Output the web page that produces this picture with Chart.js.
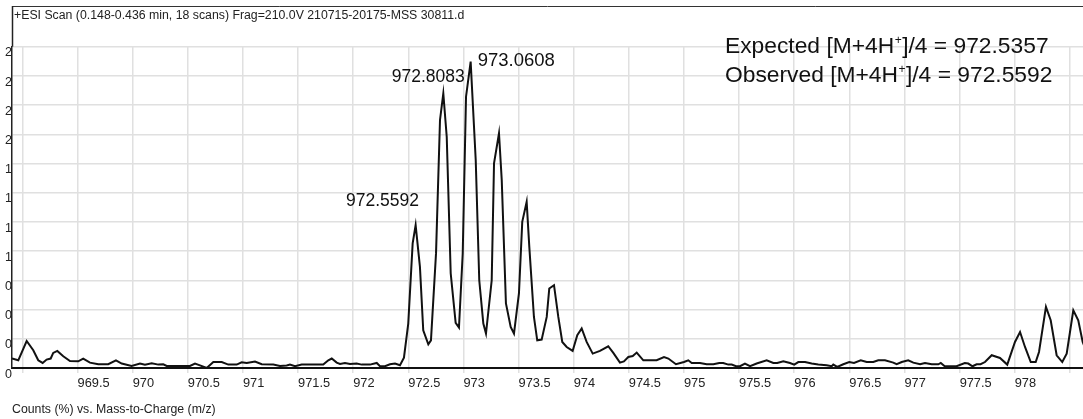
<!DOCTYPE html>
<html>
<head>
<meta charset="utf-8">
<script src="https://cdn.jsdelivr.net/npm/chart.js@4.4.0/dist/chart.umd.min.js"></script>
<style>
  html, body { margin: 0; padding: 0; background: #fff; }
</style>
</head>
<body>
<canvas id="spectrum" width="1083" height="419"></canvas>
<script>
// m/z values of the profile trace
const mz = [
  968.905, 968.962, 969.038, 969.098, 969.143, 969.183, 969.219, 969.256, 969.279, 969.316,
  969.370, 969.431, 969.506, 969.551, 969.612, 969.688, 969.778, 969.848, 969.900, 969.990,
  970.066, 970.111, 970.172, 970.232, 970.277, 970.308, 970.519, 970.565, 970.610, 970.671,
  970.731, 970.807, 970.867, 970.943, 970.988, 971.034, 971.109, 971.170, 971.275, 971.336,
  971.396, 971.426, 971.472, 971.532, 971.728, 971.774, 971.805, 971.850, 971.880, 971.925,
  971.971, 972.031, 972.077, 972.152, 972.213, 972.243, 972.288, 972.333, 972.379, 972.424,
  972.460, 972.499, 972.539, 972.566, 972.605, 972.635, 972.681, 972.705, 972.751, 972.787,
  972.817, 972.848, 972.884, 972.929, 972.959, 972.993, 973.023, 973.065, 973.111, 973.143,
  973.180, 973.204, 973.256, 973.277, 973.322, 973.347, 973.385, 973.428, 973.458, 973.503,
  973.533, 973.573, 973.597, 973.639, 973.669, 973.709, 973.755, 973.778, 973.821, 973.860,
  973.896, 973.936, 973.990, 974.032, 974.072, 974.117, 974.172, 974.238, 974.313, 974.359,
  974.419, 974.455, 974.495, 974.535, 974.571, 974.631, 974.752, 974.819, 974.858, 974.927,
  975.000, 975.039, 975.070, 975.145, 975.206, 975.266, 975.320, 975.356, 975.402, 975.433,
  975.472, 975.508, 975.553, 975.599, 975.659, 975.750, 975.810, 975.846, 975.901, 975.961,
  976.000, 976.037, 976.098, 976.158, 976.218, 976.294, 976.340, 976.354, 976.390, 976.445,
  976.499, 976.542, 976.603, 976.657, 976.717, 976.762, 976.823, 976.898, 976.929, 976.975,
  977.034, 977.080, 977.141, 977.186, 977.247, 977.307, 977.329, 977.365, 977.472, 977.547,
  977.578, 977.617, 977.654, 977.690, 977.730, 977.791, 977.866, 977.932, 978.002, 978.048,
  978.093, 978.145, 978.190, 978.220, 978.283, 978.326, 978.380, 978.431, 978.471, 978.531,
  978.576, 978.616, 978.680
];

// counts, same order as mz
const counts = [
  0.081, 0.066, 0.231, 0.152, 0.066, 0.043, 0.072, 0.081, 0.129, 0.146,
  0.100, 0.060, 0.057, 0.081, 0.046, 0.032, 0.032, 0.066, 0.038, 0.017,
  0.038, 0.029, 0.040, 0.029, 0.032, 0.017, 0.017, 0.038, 0.023, 0.000,
  0.051, 0.051, 0.029, 0.029, 0.049, 0.043, 0.055, 0.032, 0.029, 0.017,
  0.021, 0.029, 0.015, 0.029, 0.029, 0.066, 0.081, 0.046, 0.034, 0.043,
  0.034, 0.038, 0.029, 0.029, 0.043, 0.015, 0.015, 0.032, 0.038, 0.023,
  0.089, 0.380, 1.066, 1.223, 0.865, 0.323, 0.203, 0.237, 0.983, 2.123,
  2.351, 1.979, 0.811, 0.386, 0.346, 0.980, 2.322, 2.622, 1.780, 0.751,
  0.380, 0.295, 0.751, 1.751, 2.009, 1.608, 0.552, 0.351, 0.295, 0.638,
  1.251, 1.422, 1.037, 0.437, 0.237, 0.243, 0.437, 0.680, 0.709, 0.437,
  0.223, 0.180, 0.146, 0.280, 0.338, 0.223, 0.123, 0.146, 0.186, 0.129,
  0.046, 0.057, 0.094, 0.103, 0.132, 0.066, 0.066, 0.094, 0.081, 0.032,
  0.051, 0.066, 0.043, 0.043, 0.032, 0.032, 0.043, 0.043, 0.029, 0.029,
  0.015, 0.015, 0.038, 0.015, 0.038, 0.066, 0.043, 0.043, 0.057, 0.043,
  0.029, 0.051, 0.051, 0.038, 0.029, 0.023, 0.015, 0.029, 0.009, 0.032,
  0.051, 0.043, 0.066, 0.051, 0.051, 0.066, 0.066, 0.046, 0.032, 0.051,
  0.066, 0.046, 0.032, 0.043, 0.032, 0.032, 0.043, 0.015, 0.015, 0.043,
  0.038, 0.015, 0.032, 0.032, 0.051, 0.109, 0.086, 0.029, 0.223, 0.308,
  0.180, 0.051, 0.051, 0.137, 0.523, 0.409, 0.109, 0.051, 0.123, 0.494,
  0.409, 0.223, 0.066
];

// axes
const xTickValues = [969, 969.5, 970, 970.5, 971, 971.5, 972, 972.5, 973, 973.5,
                     974, 974.5, 975, 975.5, 976, 976.5, 977, 977.5, 978, 978.5];
const xTickLabels = ['', '969.5', '970', '970.5', '971', '971.5', '972', '972.5', '973', '973.5',
                     '974', '974.5', '975', '975.5', '976', '976.5', '977', '977.5', '978', ''];
const yTickValues = [0, 0.25, 0.5, 0.75, 1, 1.25, 1.5, 1.75, 2, 2.25, 2.5, 2.75];
const yTickLabels = ['0', '0', '0', '0', '1', '1', '1', '1', '2', '2', '2', '2']; // clipped in the original

// peak annotations
const peakLabels = ['972.5592', '972.8083', '973.0608'];
const peakLabelMz = [971.934, 972.349, 973.129];
const peakLabelCounts = [1.428, 2.487, 2.632];

const headerText = '+ESI Scan (0.148-0.436 min, 18 scans) Frag=210.0V 210715-20175-MSS 30811.d';
const xTitle = 'Counts (%) vs. Mass-to-Charge (m/z)';
const massLines = [
  ['Expected [M+4H', '+', ']/4 = 972.5357'],
  ['Observed [M+4H', '+', ']/4 = 972.5592']
];

const FONT = "'Liberation Sans', Arial, Helvetica, sans-serif";

// header frame, header text and annotations
const annotate = {
  id: 'annotate',
  afterDraw(chart) {
    const ctx = chart.ctx;
    const area = chart.chartArea;
    const xs = chart.scales.x, ys = chart.scales.y;
    ctx.save();

    // frame over the header band
    ctx.strokeStyle = '#333';
    ctx.lineWidth = 1;
    ctx.beginPath();
    ctx.moveTo(area.left, 6.5);
    ctx.lineTo(chart.width, 6.5);
    ctx.stroke();
    ctx.lineWidth = 1.5;
    ctx.strokeStyle = '#222';
    ctx.beginPath();
    ctx.moveTo(area.left + 0.5, 6);
    ctx.lineTo(area.left + 0.5, area.top);
    ctx.stroke();

    ctx.fillStyle = '#222';
    ctx.font = '12.3px ' + FONT;
    ctx.textBaseline = 'middle';
    ctx.textAlign = 'left';
    ctx.fillText(headerText, 14, 16);

    // peak labels
    ctx.fillStyle = '#111';
    peakLabels.forEach((t, i) => {
      ctx.font = (i === 2 ? '18.5px ' : '17.5px ') + FONT;
      ctx.fillText(t, xs.getPixelForValue(peakLabelMz[i]), ys.getPixelForValue(peakLabelCounts[i]));
    });

    // expected / observed
    massLines.forEach((parts, i) => {
      const y = 47 + i * 28.5;
      let x = 725;
      ctx.font = '22.8px ' + FONT;
      ctx.fillText(parts[0], x, y);
      x += ctx.measureText(parts[0]).width;
      ctx.font = '12px ' + FONT;
      ctx.fillText(parts[1], x + 0.5, y - 6);
      x += ctx.measureText(parts[1]).width + 1;
      ctx.font = '22.8px ' + FONT;
      ctx.fillText(parts[2], x, y);
    });
    ctx.restore();
  }
};

new Chart(document.getElementById('spectrum'), {
  type: 'line',
  data: {
    datasets: [{
      data: mz.map((m, i) => ({ x: m, y: counts[i] })),
      borderColor: '#111',
      borderWidth: 2,
      pointRadius: 0,
      tension: 0,
      fill: false
    }]
  },
  options: {
    responsive: false,
    animation: false,
    layout: { padding: { top: 46.7, left: 0, right: 0, bottom: 0 } },
    plugins: {
      legend: { display: false },
      tooltip: { enabled: false }
    },
    scales: {
      x: {
        type: 'linear',
        min: 968.905,
        max: 978.619,
        afterBuildTicks: s => { s.ticks = xTickValues.map(v => ({ value: v })); },
        afterFit: s => { s.height = 51; },
        ticks: {
          align: 'start',
          padding: 3,
          autoSkip: false,
          maxRotation: 0,
          color: '#222',
          font: { family: FONT, size: 12.8 },
          callback: (v, i) => xTickLabels[i]
        },
        grid: { color: '#e0e0e0', lineWidth: 1.5, tickLength: 5 },
        border: { color: '#111', width: 2 },
        title: {
          display: true,
          text: xTitle,
          align: 'start',
          color: '#222',
          font: { family: FONT, size: 12.3 },
          padding: { top: 0, bottom: 2 }
        }
      },
      y: {
        min: 0,
        max: 2.75,
        afterBuildTicks: s => { s.ticks = yTickValues.map(v => ({ value: v })); },
        afterFit: s => { s.width = 12; },
        ticks: {
          align: 'start',
          padding: 0,
          autoSkip: false,
          color: '#222',
          font: { family: FONT, size: 12.5 },
          callback: (v, i) => yTickLabels[i]
        },
        grid: { color: '#e0e0e0', lineWidth: 1.5, drawTicks: false },
        border: { color: '#222', width: 1.5 }
      }
    }
  },
  plugins: [annotate]
});
</script>
</body>
</html>
